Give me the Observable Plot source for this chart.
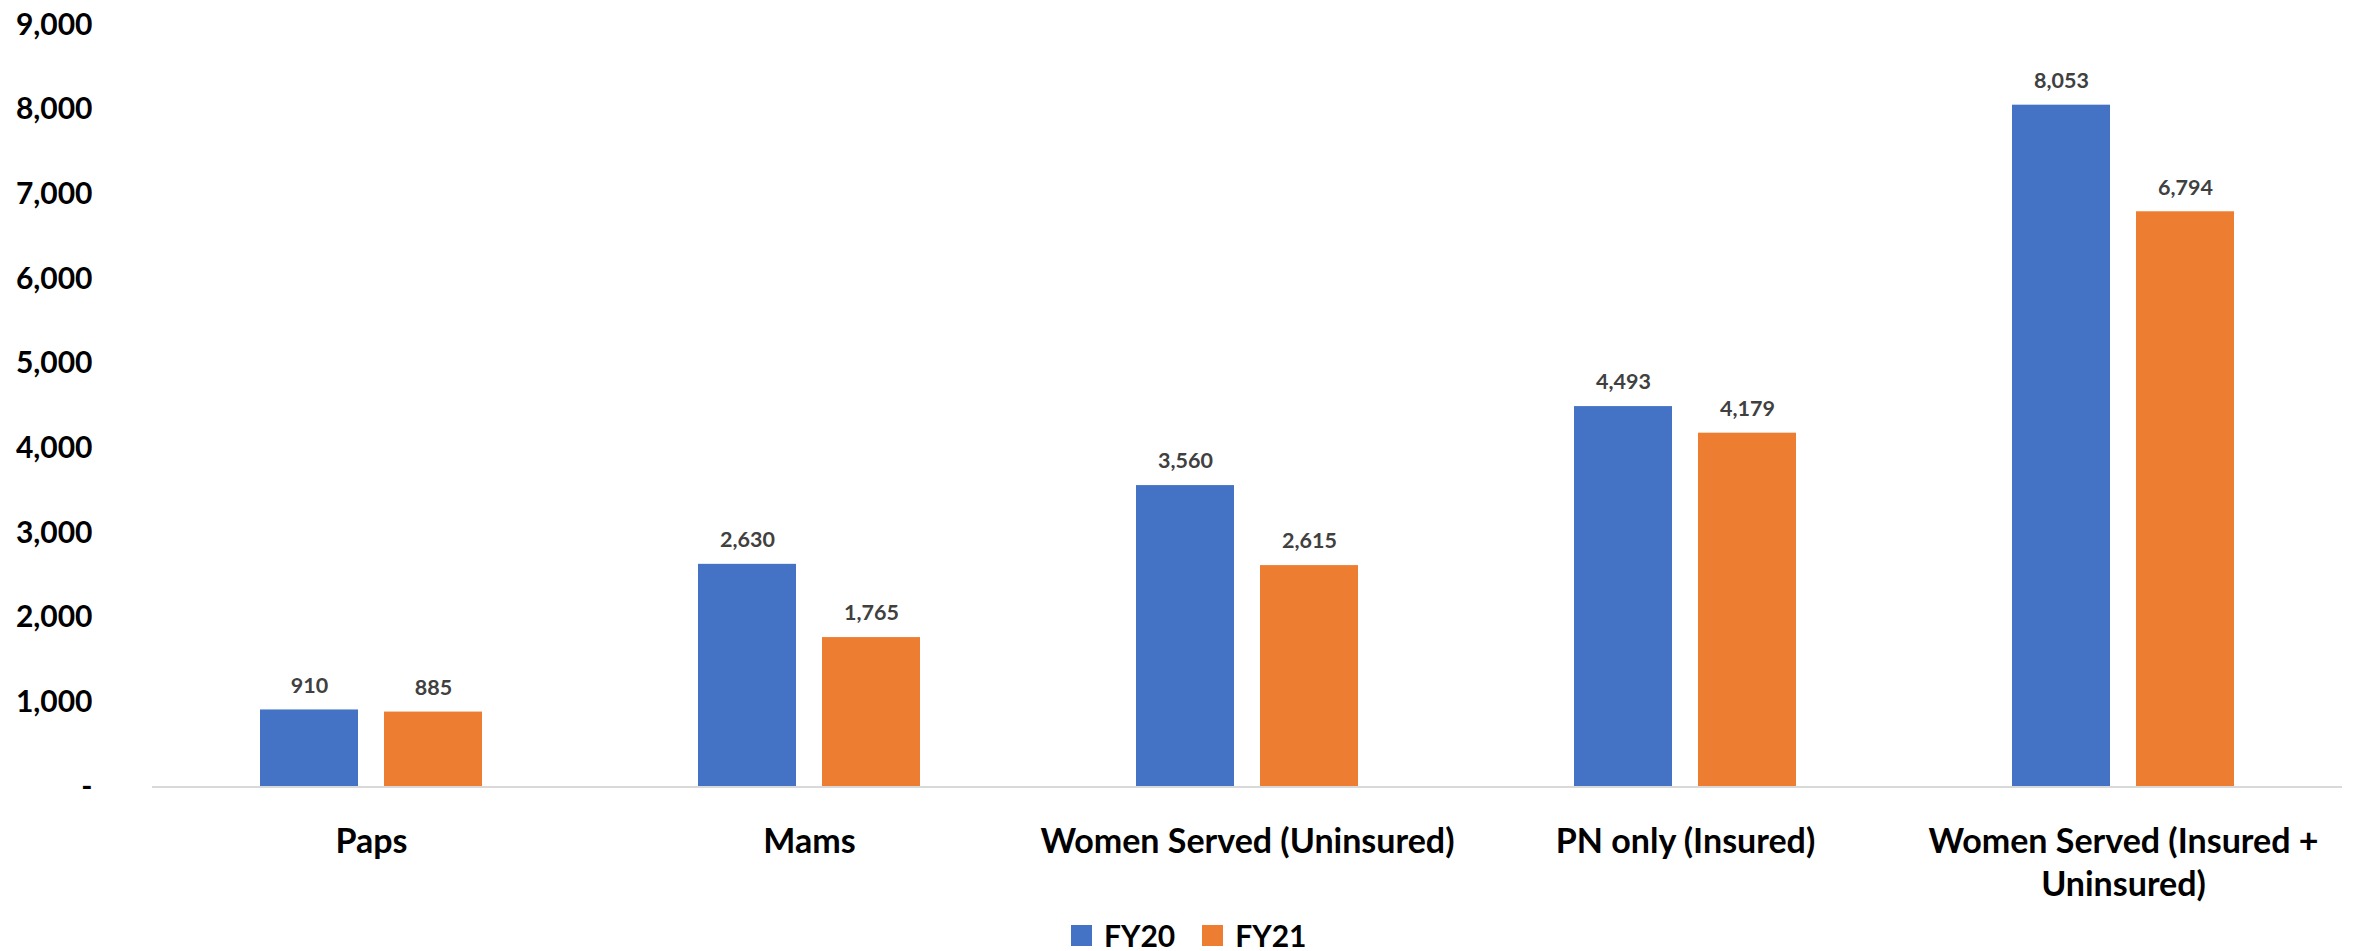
<!DOCTYPE html>
<html><head><meta charset="utf-8">
<script src="https://cdn.jsdelivr.net/npm/d3@7"></script>
<script src="https://cdn.jsdelivr.net/npm/@observablehq/plot@0.6"></script>
<style>
body{margin:0;background:#fff;font-family:Lato,sans-serif;}
#chart svg{display:block;}
#legend{display:flex;align-items:center;height:46px;padding-top:14px;padding-left:1071px;box-sizing:border-box;font:700 30px Lato,sans-serif;color:#000;}
.item{display:flex;align-items:center;margin-right:27px;}
.sw{width:21px;height:21px;margin-right:12px;}
</style></head><body>
<div id="chart"></div>
<div id="legend"></div>
<script>
const categories = ["Paps", "Mams", "Women Served (Uninsured)", "PN only (Insured)", "Women Served (Insured + Uninsured)"];
const categoryLabels = ["Paps", "Mams", "Women Served (Uninsured)", "PN only (Insured)", "Women Served (Insured +\nUninsured)"];
const series = ["FY20", "FY21"];
const fy20 = [910, 2630, 3560, 4493, 8053];
const fy21 = [885, 1765, 2615, 4179, 6794];
const yTicks = [0, 1000, 2000, 3000, 4000, 5000, 6000, 7000, 8000, 9000];
const colors = ["#4472C4", "#ED7D31"];

const data = categories.flatMap((c, i) => [
  {category: c, series: "FY20", value: fy20[i]},
  {category: c, series: "FY21", value: fy21[i]}
]);
const fmt = d3.format(",");

const chart = Plot.plot({
  width: 2356,
  height: 905,
  marginTop: 24.5,
  marginBottom: 118.5,
  marginLeft: 150,
  marginRight: 11.5,
  fx: {domain: categories, padding: 0, axis: null},
  x: {domain: series, paddingInner: 0.212, paddingOuter: 0.862, axis: null},
  y: {domain: [0, 9000], axis: null},
  color: {domain: series, range: colors},
  style: {background: "#fff"},
  marks: [
    Plot.barY(data, {fx: "category", x: "series", y: "value", fill: "series"}),
    Plot.ruleY([0], {stroke: "#d9d9d9", strokeWidth: 2}),
    Plot.text(data, {
      fx: "category", x: "series", y: "value",
      text: d => fmt(d.value),
      lineAnchor: "middle", dy: -24,
      fontSize: 21.5, fontWeight: 700, fontFamily: "Lato, sans-serif", fill: "#404040"
    }),
    Plot.text(categories, {
      fx: d => d,
      text: d => categoryLabels[categories.indexOf(d)],
      frameAnchor: "bottom", lineAnchor: "top", dy: 35, lineHeight: 1.28,
      fontSize: 34, fontWeight: 700, fontFamily: "Lato, sans-serif", fill: "#000"
    }),
    Plot.axisY(yTicks, {
      tickSize: 0, tickPadding: 60,
      tickFormat: d => d === 0 ? "-" : fmt(d),
      fontSize: 30, fontWeight: 700, fontFamily: "Lato, sans-serif", fill: "#000",
      label: null
    })
  ]
});
document.getElementById("chart").appendChild(chart);

const legend = document.getElementById("legend");
series.forEach((s, i) => {
  const item = document.createElement("div");
  item.className = "item";
  const sw = document.createElement("div");
  sw.className = "sw";
  sw.style.background = colors[i];
  const t = document.createElement("span");
  t.textContent = s;
  item.appendChild(sw);
  item.appendChild(t);
  legend.appendChild(item);
});
</script>
</body></html>
